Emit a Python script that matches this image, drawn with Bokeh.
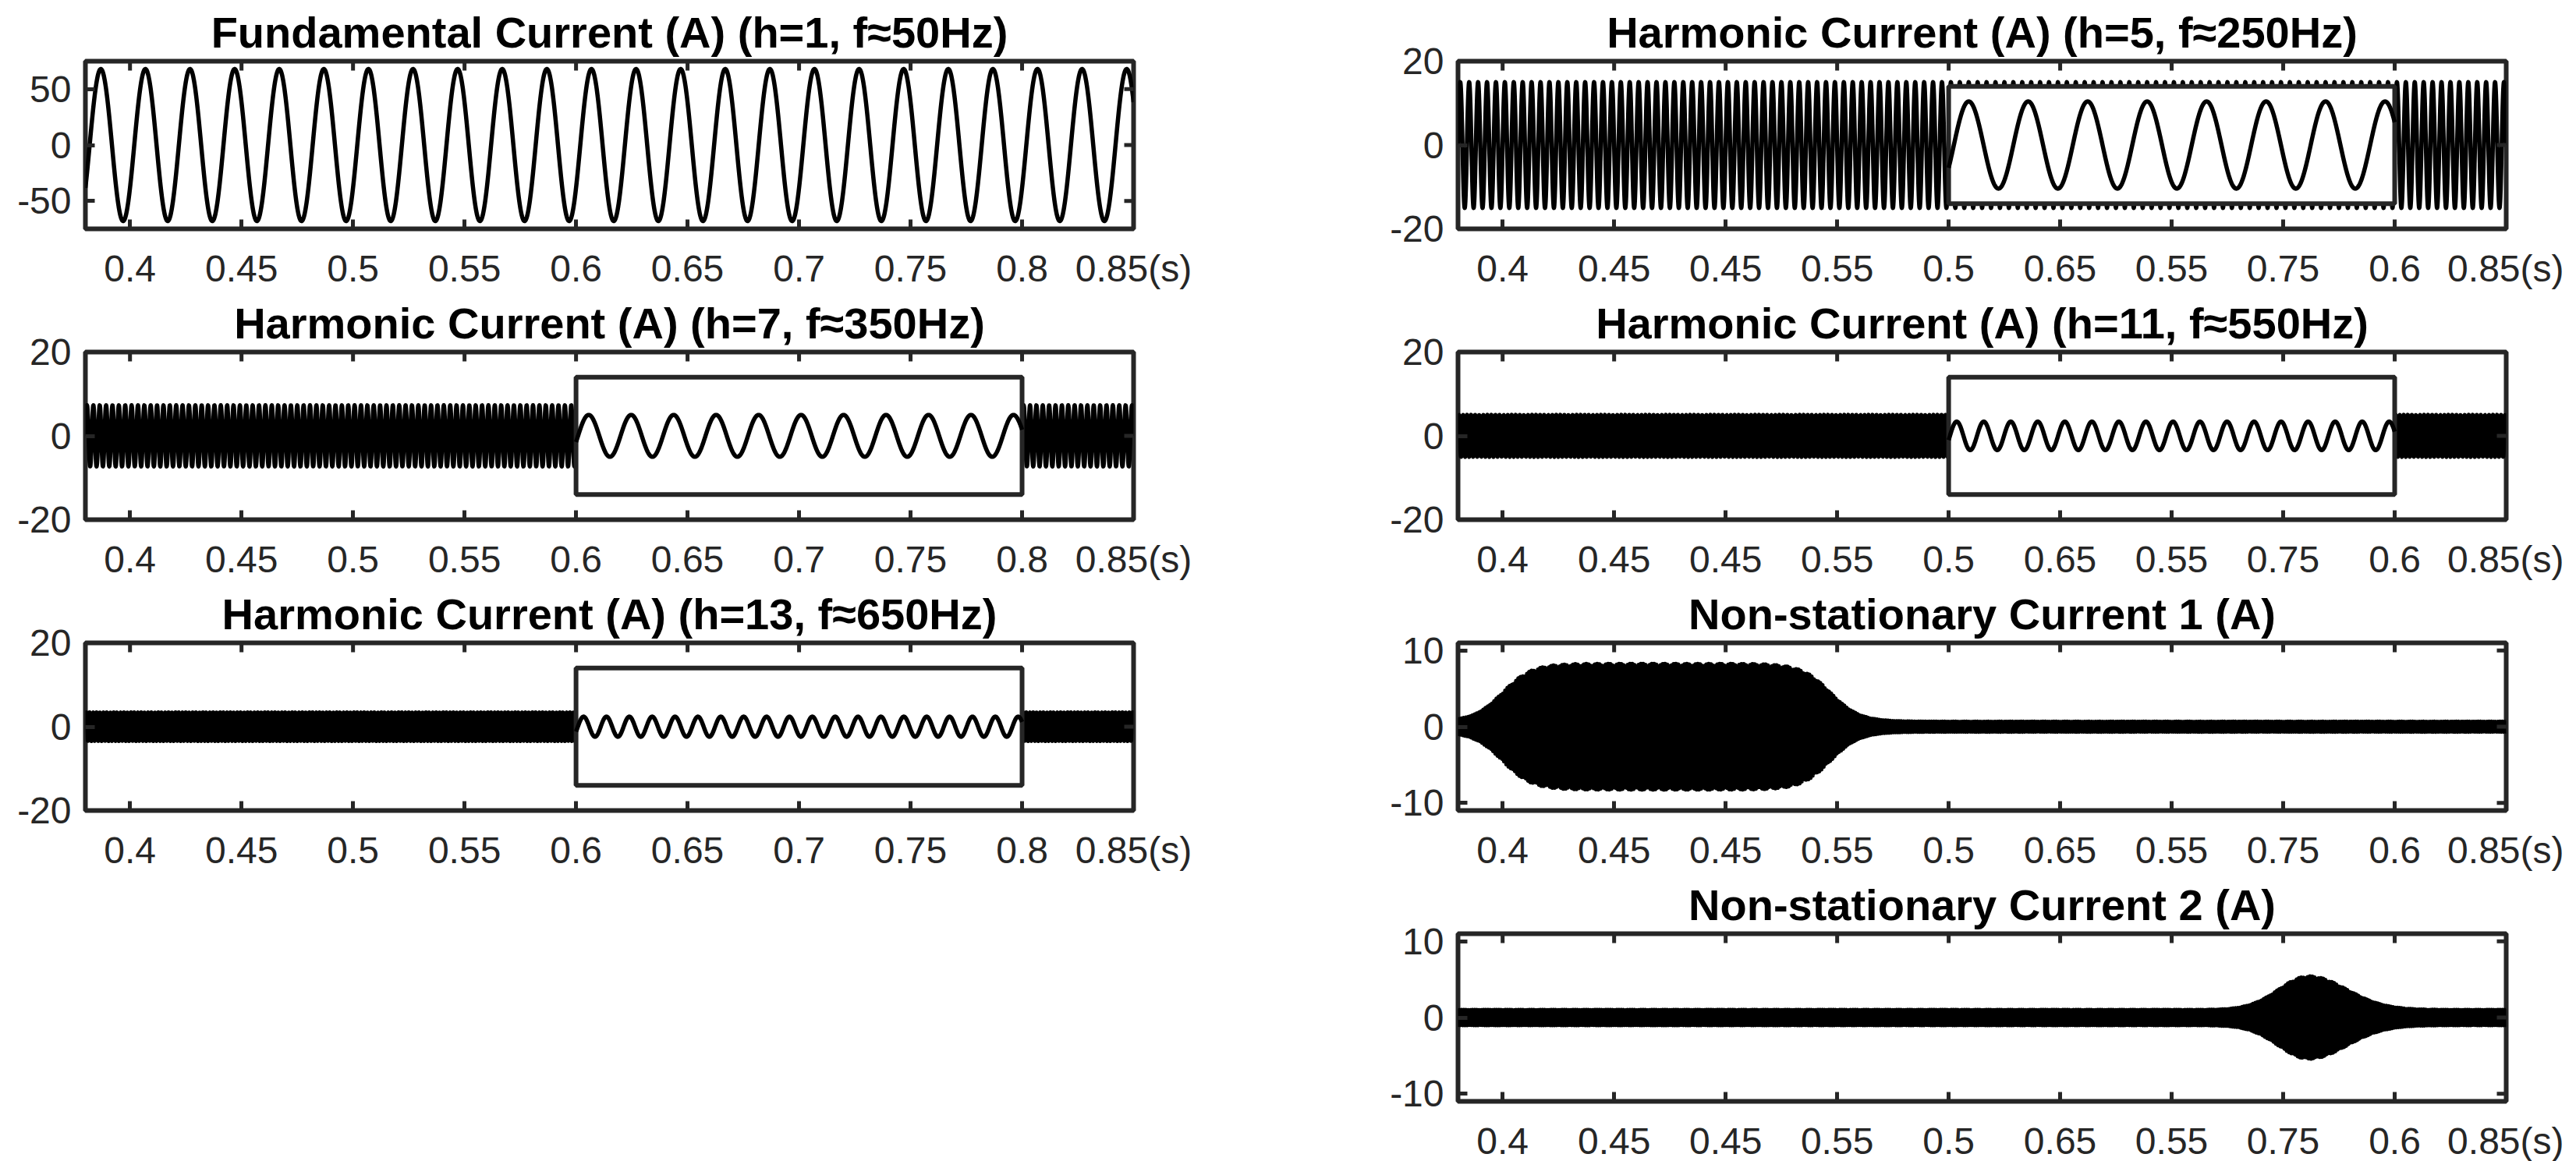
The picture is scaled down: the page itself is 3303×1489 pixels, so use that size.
import numpy as np
from bokeh.plotting import figure
from bokeh.models import FixedTicker, Range1d
from bokeh.layouts import row, column
from bokeh.embed import file_html
from bokeh.resources import INLINE

# ------------------------------------------------------------------ data
T_START, T_END = 0.38, 0.85           # time axis shown (s)
FS = 10000                             # sampling rate of the drawn signals (Hz)

x_ticks = [0.4, 0.45, 0.5, 0.55, 0.6, 0.65, 0.7, 0.75, 0.8, 0.85]
x_labels_left = ["0.4", "0.45", "0.5", "0.55", "0.6", "0.65", "0.7", "0.75", "0.8", "0.85(s)"]
x_labels_right = ["0.4", "0.45", "0.45", "0.55", "0.5", "0.65", "0.55", "0.75", "0.6", "0.85(s)"]

titles_left = ["Fundamental Current (A) (h=1, f\u224850Hz)",
               "Harmonic Current (A) (h=7, f\u2248350Hz)",
               "Harmonic Current (A) (h=13, f\u2248650Hz)"]
titles_right = ["Harmonic Current (A) (h=5, f\u2248250Hz)",
                "Harmonic Current (A) (h=11, f\u2248550Hz)",
                "Non-stationary Current 1 (A)",
                "Non-stationary Current 2 (A)"]

# fundamental
fund_freq = 50.0
fund_amp = 68.0
fund_phase = -0.6
fund_yticks = [-50, 0, 50]
fund_yrange = [-75, 75]

# harmonics (order, frequency, amplitude of the dense trace, amplitude / phase of inset trace)
harm_order = [5, 7, 11, 13]
harm_freq = [250.0, 350.0, 550.0, 650.0]
harm_amp = [15.0, 7.3, 5.0, 3.4]
inset_amp = [10.4, 5.0, 3.4, 2.4]
inset_phase = [-0.55, -0.3, -0.3, -0.5]
inset_window = 0.03                    # seconds of signal magnified in the inset
inset_t = [0.6, 0.8]                   # inset box, time extent
inset_y = [-14, 14]                    # inset box, value extent
harm_yticks = [-20, 0, 20]
harm_yrange = [-20, 20]

# non-stationary current 1
ns1_carrier = 1020.0
ns1_base = 0.65
ns1_peak = 7.6
ns1_on, ns1_off, ns1_edge = 0.400, 0.547, 0.0065

# non-stationary current 2
ns2_carrier = 1020.0
ns2_base = 1.0
ns2_peak = 4.4
ns2_center = 0.7615
ns2_sigma_rise, ns2_sigma_fall = 0.0135, 0.017

ns_yticks = [-10, 0, 10]
ns_yrange = [-11, 11]

# ------------------------------------------------------------------ signals
t = T_START + np.arange(int(round((T_END - T_START) * FS)) + 1) / FS
fund = fund_amp * np.sin(2 * np.pi * fund_freq * t + fund_phase)
harm = [a * np.sin(2 * np.pi * f * t) for a, f in zip(harm_amp, harm_freq)]
xi = np.linspace(inset_t[0], inset_t[1], 1500)
tau = (xi - inset_t[0]) / (inset_t[1] - inset_t[0]) * inset_window
insets = [a * np.sin(2 * np.pi * f * tau + ph) for a, f, ph in zip(inset_amp, harm_freq, inset_phase)]


def sig(x):
    return 1.0 / (1.0 + np.exp(-x))


env1 = ns1_base + ns1_peak * sig((t - ns1_on) / ns1_edge) * (1 - sig((t - ns1_off) / ns1_edge))
ns1 = env1 * np.sin(2 * np.pi * ns1_carrier * t)
sg = np.where(t < ns2_center, ns2_sigma_rise, ns2_sigma_fall)
env2 = ns2_base + ns2_peak * np.exp(-0.5 * ((t - ns2_center) / sg) ** 2)
ns2 = env2 * np.sin(2 * np.pi * ns2_carrier * t)

# ------------------------------------------------------------------ styling helpers
AX = "#262626"
FONT = "Liberation Sans"
FRAME_W, FRAME_H = 1344, 215
TOP = 78
BOTTOMS = [71, 72, 68, 90]
TICK = 12
LW = 5.5


def make(title, yticks, yrange, xlabels, row_i, left_col):
    if left_col:
        bl, br = 109, 100
    else:
        bl, br = 316, 74
    p = figure(frame_width=FRAME_W, frame_height=FRAME_H,
               min_border_left=bl, min_border_right=br,
               min_border_top=TOP, min_border_bottom=BOTTOMS[row_i],
               x_range=Range1d(T_START, T_END), y_range=Range1d(*yrange),
               output_backend="svg", toolbar_location=None, title=title)
    p.title.text_font = FONT
    p.title.text_font_size = "56px"
    p.title.text_font_style = "bold"
    p.title.text_color = "black"
    p.title.align = "center"
    p.title.standoff = 12
    p.xgrid.visible = False
    p.ygrid.visible = False
    p.outline_line_color = AX
    p.outline_line_width = 6
    p.background_fill_color = "white"
    p.border_fill_color = "white"

    p.xaxis.ticker = FixedTicker(ticks=x_ticks)
    p.yaxis.ticker = FixedTicker(ticks=yticks)
    p.xaxis.major_label_overrides = {v: s for v, s in zip(x_ticks, xlabels)}
    p.yaxis.major_label_overrides = {v: str(v) for v in yticks}
    for ax in (p.xaxis[0], p.yaxis[0]):
        ax.axis_line_color = None
        ax.major_tick_in = TICK
        ax.major_tick_out = 0
        ax.minor_tick_in = 0
        ax.minor_tick_out = 0
        ax.major_tick_line_color = AX
        ax.major_tick_line_width = 5
        ax.major_label_text_font = FONT
        ax.major_label_text_font_size = "48px"
        ax.major_label_text_color = AX
    p.xaxis.major_label_standoff = 24
    p.yaxis.major_label_standoff = 18
    return p


def mirror_ticks(p, yticks, yrange):
    # tick marks on the top and right edges of the box (clipped to the frame, so only the inner half shows)
    p.scatter(x_ticks, [yrange[1]] * len(x_ticks), marker="dash", angle=np.pi / 2,
              size=2 * TICK, line_color=AX, line_width=5)
    p.scatter([T_END] * len(yticks), yticks, marker="dash", size=2 * TICK,
              line_color=AX, line_width=5)


def add_wave(p, y):
    p.line(t, y, line_color="black", line_width=LW, line_join="round")


def add_inset(p, yi):
    p.quad(left=inset_t[0], right=inset_t[1], bottom=inset_y[0], top=inset_y[1],
           fill_color="white", line_color=AX, line_width=6)
    p.line(xi, yi, line_color="black", line_width=LW, line_join="round")


# left column
L1 = make(titles_left[0], fund_yticks, fund_yrange, x_labels_left, 0, True)
add_wave(L1, fund)
mirror_ticks(L1, fund_yticks, fund_yrange)
L2 = make(titles_left[1], harm_yticks, harm_yrange, x_labels_left, 1, True)
add_wave(L2, harm[1])
add_inset(L2, insets[1])
mirror_ticks(L2, harm_yticks, harm_yrange)
L3 = make(titles_left[2], harm_yticks, harm_yrange, x_labels_left, 2, True)
add_wave(L3, harm[3])
add_inset(L3, insets[3])
mirror_ticks(L3, harm_yticks, harm_yrange)

# right column
R1 = make(titles_right[0], harm_yticks, harm_yrange, x_labels_right, 0, False)
add_wave(R1, harm[0])
add_inset(R1, insets[0])
mirror_ticks(R1, harm_yticks, harm_yrange)
R2 = make(titles_right[1], harm_yticks, harm_yrange, x_labels_right, 1, False)
add_wave(R2, harm[2])
add_inset(R2, insets[2])
mirror_ticks(R2, harm_yticks, harm_yrange)
R3 = make(titles_right[2], ns_yticks, ns_yrange, x_labels_right, 2, False)
add_wave(R3, ns1)
mirror_ticks(R3, ns_yticks, ns_yrange)
R4 = make(titles_right[3], ns_yticks, ns_yrange, x_labels_right, 3, False)
add_wave(R4, ns2)
mirror_ticks(R4, ns_yticks, ns_yrange)

layout = row(column(L1, L2, L3), column(R1, R2, R3, R4))
open("out.html", "w").write(file_html(layout, INLINE))
